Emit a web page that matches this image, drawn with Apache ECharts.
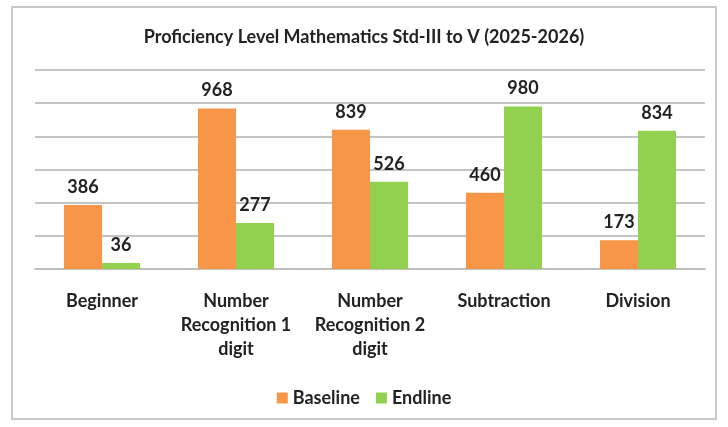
<!DOCTYPE html>
<html>
<head>
<meta charset="utf-8">
<script src="https://cdn.jsdelivr.net/npm/echarts@6/dist/echarts.min.js"></script>
<style>
  html, body { margin: 0; padding: 0; background: #fff; }
  #frame {
    position: absolute; left: 11px; top: 6px; width: 706px; height: 414px;
    border: 2px solid #c8c8c8; box-sizing: border-box;
  }
  #chart { position: absolute; left: 0; top: 0; width: 728px; height: 427px; }
</style>
</head>
<body>
<div id="frame"></div>
<div id="chart"></div>
<script>
// chart data
const categories = ['Beginner', 'Number\nRecognition 1\ndigit', 'Number\nRecognition 2\ndigit', 'Subtraction', 'Division'];
const baseline = [386, 968, 839, 460, 173];
const endline = [36, 277, 526, 980, 834];

const font = 'Lato, "Open Sans", sans-serif';
const myChart = echarts.init(document.getElementById('chart'));

const labelStyle = {
  show: true,
  position: 'top',
  distance: 9,
  color: '#222',
  fontFamily: font,
  fontWeight: 'bold',
  fontSize: 18
};

const option = {
  animation: false,
  title: {
    text: 'Proficiency Level Mathematics Std-III to V (2025-2026)',
    left: 'center',
    top: 23,
    textStyle: { fontFamily: font, fontSize: 18, fontWeight: 'bold', color: '#222' }
  },
  legend: {
    bottom: 15,
    left: 'center',
    itemWidth: 11,
    itemHeight: 11,
    itemGap: 16,
    icon: 'rect',
    textStyle: { fontFamily: font, fontSize: 18, fontWeight: 'bold', color: '#222' },
    data: ['Baseline', 'Endline']
  },
  grid: { left: 35, right: 23, top: 70, bottom: 158 },
  xAxis: {
    type: 'category',
    data: categories,
    axisLine: { show: true, lineStyle: { color: '#bfbfbf', width: 2 } },
    axisTick: { show: false },
    axisLabel: {
      margin: 20,
      interval: 0,
      color: '#222',
      fontFamily: font,
      fontWeight: 'bold',
      fontSize: 18,
      lineHeight: 24
    }
  },
  yAxis: {
    type: 'value',
    min: 0,
    max: 1200,
    interval: 200,
    axisLabel: { show: false },
    axisLine: { show: false },
    axisTick: { show: false },
    splitLine: { lineStyle: { color: '#c4c4c4', width: 2 } }
  },
  series: [
    {
      name: 'Baseline',
      type: 'bar',
      data: baseline,
      barWidth: 38,
      barGap: '0%',
      itemStyle: { color: '#F79646' },
      label: labelStyle
    },
    {
      name: 'Endline',
      type: 'bar',
      data: endline,
      barWidth: 38,
      itemStyle: { color: '#92D050' },
      label: labelStyle
    }
  ]
};

myChart.setOption(option);
</script>
</body>
</html>
